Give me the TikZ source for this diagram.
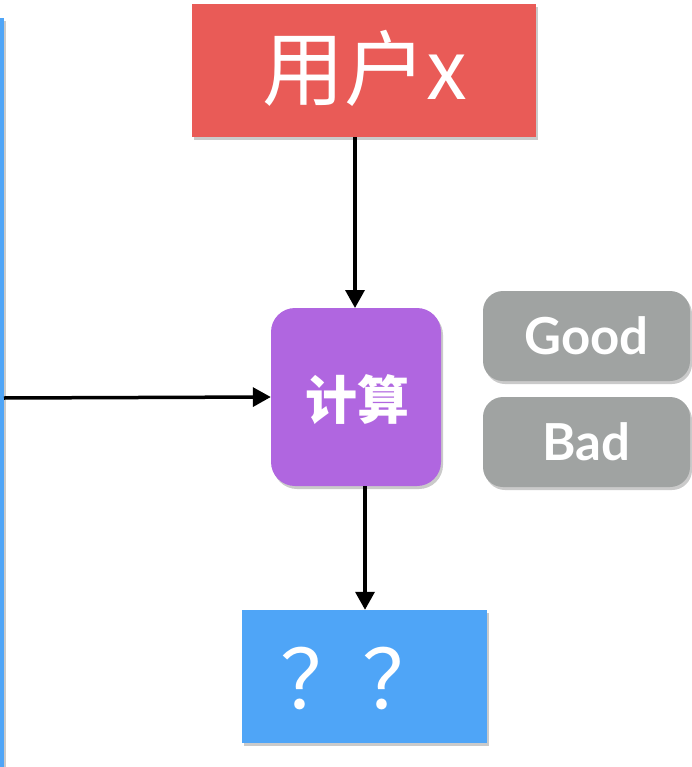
\documentclass[tikz,border=0pt]{standalone}
\usepackage{fontspec}
\newfontfamily\cjk{Noto Sans CJK SC}
\newfontfamily\lato{Lato}
\usetikzlibrary{arrows.meta,shadows}
\definecolor{redbox}{HTML}{E95B57}
\definecolor{purplebox}{HTML}{B066E0}
\definecolor{bluebox}{HTML}{4FA5F7}
\definecolor{graybox}{HTML}{A0A3A2}
\tikzset{
  x=1pt,y=-1pt,
  shade/.style={drop shadow={shadow xshift=2pt,shadow yshift=-3pt,opacity=0.35,fill=black!60}},
  box/.style={draw=none,shade,inner sep=0pt,text=white},
  conn/.style={line width=3.5pt,-{Triangle[length=18pt,width=19pt]},shorten >=0pt},
  gb/.style={box,fill=graybox,rounded corners=20pt,minimum width=207pt,minimum height=90pt,font=\lato\bfseries\fontsize{51}{51}\selectfont},
}
\begin{document}
\begin{tikzpicture}
\useasboundingbox (0,0) rectangle (692,767);
% left blue bar (edge of a cut-off box)
\fill[bluebox,shade] (-20,18) rectangle (4,800);
\coordinate (leftedge) at (4,398);
% red box
\node[box,fill=redbox,minimum width=344pt,minimum height=133pt] (user) at (364,70.5) {};
\node[text=white,font=\cjk\fontsize{82}{82}\selectfont] at (365,68) {用户x};
% purple box
\node[box,fill=purplebox,rounded corners=24pt,minimum width=170pt,minimum height=178pt] (calc) at (356,397) {};
\node[text=white,font=\cjk\bfseries\fontsize{52}{52}\selectfont] at (357,400) {计算};
% blue box
\node[box,fill=bluebox,minimum width=245pt,minimum height=133pt] (res) at (364.5,676.5) {};
\node[text=white,font=\cjk\fontsize{82}{82}\selectfont] at (362,678) {？？};
% good / bad
\node[gb] (good) at (586.5,336) {Good};
\node[gb] (bad) at (586.5,442) {Bad};
% connectors
\draw[conn] (user.south -| 355,0) -- (355,308);
\draw[conn] (leftedge) -- (calc.west);
\draw[conn] (365,486) -- (res.north -| 365,0);
\end{tikzpicture}
\end{document}
